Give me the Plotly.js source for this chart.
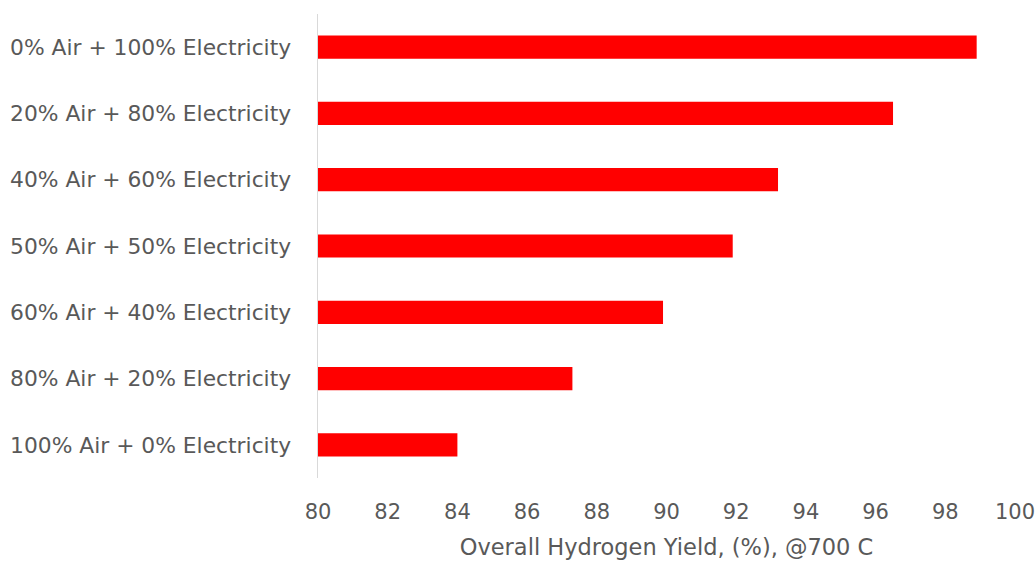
<!DOCTYPE html>
<html>
<head>
<meta charset="utf-8">
<script src="https://cdn.plot.ly/plotly-3.0.1.min.js"></script>
<style>
  html, body { margin: 0; padding: 0; background: #ffffff; }
  #chart { width: 1035px; height: 562px; }
</style>
</head>
<body>
<div id="chart"></div>
<script>
// Operating mixes, listed bottom to top as they stack on the category axis
const mixes = [
  "100% Air + 0% Electricity",
  "80% Air + 20% Electricity",
  "60% Air + 40% Electricity",
  "50% Air + 50% Electricity",
  "40% Air + 60% Electricity",
  "20% Air + 80% Electricity",
  "0% Air + 100% Electricity"
];
// Overall hydrogen yield (%) at 700 C for each mix
const hydrogenYield = [84.0, 87.3, 89.9, 91.9, 93.2, 96.5, 98.9];
const xTicks = [80, 82, 84, 86, 88, 90, 92, 94, 96, 98, 100];

const textGray = "#595959";
const fontFamily = "'DejaVu Sans', 'Open Sans', sans-serif";

const trace = {
  type: "bar",
  orientation: "h",
  y: mixes,
  x: hydrogenYield,
  base: 0,
  marker: { color: "#ff0000", line: { width: 0 } },
  hoverinfo: "x+y"
};

const layout = {
  width: 1035,
  height: 562,
  margin: { l: 318, r: 20, t: 14, b: 84 },
  paper_bgcolor: "#ffffff",
  plot_bgcolor: "#ffffff",
  bargap: 0.65,
  showlegend: false,
  font: { family: fontFamily, color: textGray, size: 20 },
  xaxis: {
    range: [80, 100],
    tickvals: xTicks,
    ticktext: xTicks.map(String),
    showgrid: false,
    zeroline: false,
    showline: false,
    ticks: "",
    ticklabeloverflow: "allow",
    ticklabelstandoff: 19,
    tickfont: { family: fontFamily, size: 21, color: textGray },
    title: {
      text: "Overall Hydrogen Yield, (%), @700 C",
      font: { family: fontFamily, size: 22.5, color: textGray },
      standoff: 16
    },
    fixedrange: true
  },
  yaxis: {
    type: "category",
    categoryorder: "array",
    categoryarray: mixes,
    showgrid: false,
    zeroline: false,
    showline: true,
    linecolor: "#d9d9d9",
    linewidth: 1.5,
    ticks: "",
    ticklabelstandoff: 21,
    tickfont: { family: fontFamily, size: 21.8, color: textGray },
    fixedrange: true
  }
};

Plotly.newPlot("chart", [trace], layout, { displayModeBar: false, staticPlot: true });
</script>
</body>
</html>
